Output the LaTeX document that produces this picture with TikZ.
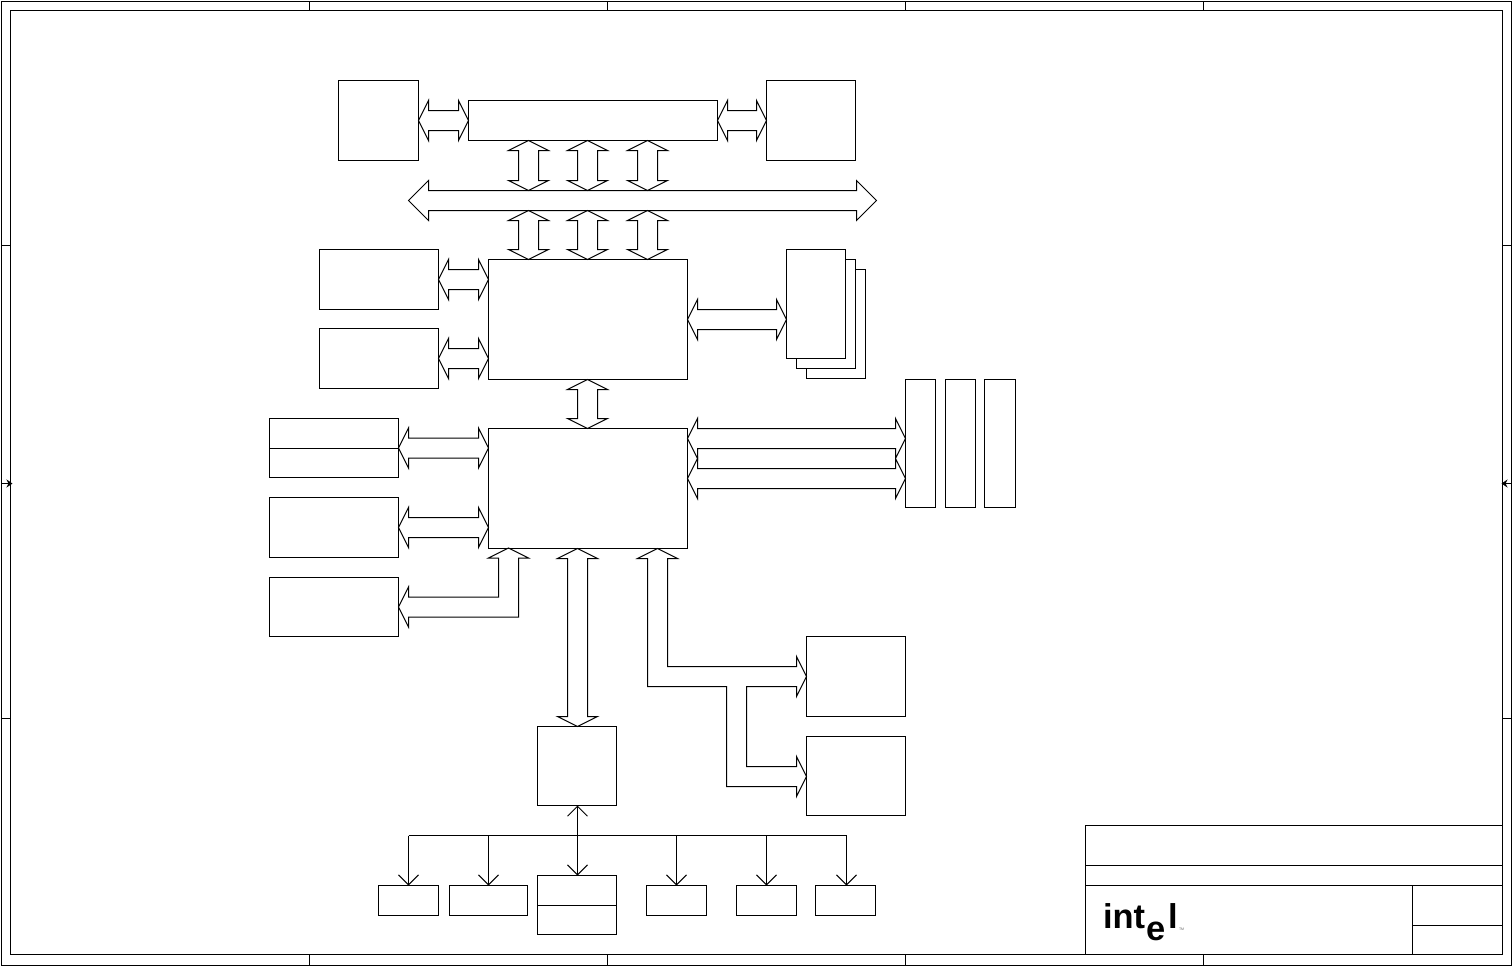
\documentclass[tikz,border=0pt]{standalone}
\usepackage{fontspec}
\setmainfont{Liberation Sans}
\usetikzlibrary{arrows.meta, calc}

\newcommand{\upx}{0.05cm}

% horizontal block arrow, left tip to right tip, y taken from the left tip
\newcommand{\hdbl}[3][10]{%
  \draw[busline] let \p1=(#2), \p2=(#3) in
    (\x1,\y1) -- ++(#1,-20) -- ++(0,10)
    -- (\x2-#1*\upx,\y1+10*\upx) -- ++(0,-10) -- (\x2,\y1) -- ++(-#1,20) -- ++(0,-10)
    -- (\x1+#1*\upx,\y1-10*\upx) -- ++(0,10) -- cycle;}
% vertical block arrow, top tip to bottom tip, x taken from the top tip
\newcommand{\vdbl}[2]{%
  \draw[busline] let \p1=(#1), \p2=(#2) in
    (\x1,\y1) -- ++(20,10) -- ++(-10,0)
    -- (\x1+10*\upx,\y2+10*\upx) -- ++(10,0) -- (\x1,\y2) -- ++(-20,-10) -- ++(10,0)
    -- (\x1-10*\upx,\y1-10*\upx) -- ++(-10,0) -- cycle;}

\begin{document}
\begin{tikzpicture}[
    x=\upx, y=-\upx,
    line width=\upx,
    % Node styles
    blk/.style 2 args={
        rectangle, draw=black, fill=white,
        minimum width=#1*\upx, minimum height=#2*\upx,
        inner sep=0pt, outer sep=0pt, anchor=north west
    },
    busline/.style={draw=black, line join=miter},
    lnk/.style={draw=black},
    barb/.style={-{Straight Barb[length=0.5cm, width=1cm, line width=\upx]}},
    barbs/.style={{Straight Barb[length=0.5cm, width=1cm, line width=\upx]}-{Straight Barb[length=0.5cm, width=1cm, line width=\upx]}},
    edgemark/.style={-{Stealth[length=0.3cm, width=0.4cm]}},
    logo/.style={font=\fontsize{49pt}{49pt}\selectfont\bfseries, inner sep=0pt, anchor=base west},
    logotm/.style={font=\fontsize{5pt}{5pt}\selectfont, inner sep=0pt, anchor=base west, text=black!60},
]
\useasboundingbox (-0.5,-0.5) rectangle (1511.5,965.5);

%% ---- SHEET FRAME ----
\node[blk={1510}{964}] (sheet) at (1,1) {};
\node[blk={1492}{944}] (inner) at (10,10) {};
\draw[lnk] (309,1) -- (309,10) (607,1) -- (607,10) (905,1) -- (905,10) (1203,1) -- (1203,10);
\draw[lnk] (309,954) -- (309,965) (607,954) -- (607,965) (905,954) -- (905,965) (1203,954) -- (1203,965);
\draw[lnk] (1,245) -- (10,245) (1,718) -- (10,718) (1502,245) -- (1511,245) (1502,718) -- (1511,718);
\draw[edgemark] (1,483) -- (12,483);
\draw[edgemark] (1511,483) -- (1501,483);

%% ---- TOP ROW ----
\node[blk={80}{80}]  (cpul)  at (338,80)  {};
\node[blk={249}{40}] (fsb)   at (468,100) {};
\node[blk={89}{80}]  (cpur)  at (766,80)  {};
\hdbl{cpul.east}{fsb.west}
\hdbl{fsb.east}{cpur.west}

%% ---- SYSTEM BUS ----
\coordinate (busl) at (408,200);
\coordinate (busr) at (876,200);
\coordinate (bust) at (642,190);
\coordinate (busb) at (642,210);
\hdbl[20]{busl}{busr}

\coordinate (tap1) at (528,0);
\coordinate (tap2) at (587,0);
\coordinate (tap3) at (647,0);

%% ---- MEMORY HUB ----
\node[blk={199}{120}] (mch)   at (488,259) {};
\node[blk={119}{60}]  (gfx)   at (319,249) {};
\node[blk={119}{60}]  (hub)   at (319,328) {};
\node[blk={59}{109}]  (dimm3) at (806,269) {};
\node[blk={59}{109}]  (dimm2) at (796,259) {};
\node[blk={59}{109}]  (dimm1) at (786,249) {};

\vdbl{tap1 |- fsb.south}{tap1 |- bust}
\vdbl{tap2 |- fsb.south}{tap2 |- bust}
\vdbl{tap3 |- fsb.south}{tap3 |- bust}
\vdbl{tap1 |- busb}{tap1 |- mch.north}
\vdbl{tap2 |- busb}{tap2 |- mch.north}
\vdbl{tap3 |- busb}{tap3 |- mch.north}
\hdbl{gfx.east}{mch.west}
\hdbl{hub.east}{mch.west}
\hdbl{mch.east}{dimm1.west}

%% ---- I/O HUB ----
\node[blk={199}{120}] (ich)   at (488,428) {};
\node[blk={129}{59}]  (ide)   at (269,418) {};
\node[blk={129}{60}]  (usb)   at (269,497) {};
\node[blk={129}{59}]  (lan)   at (269,577) {};
\node[blk={30}{128}]  (slot1) at (905,379) {};
\node[blk={30}{128}]  (slot2) at (945,379) {};
\node[blk={31}{128}]  (slot3) at (984,379) {};
\draw[lnk] (ide.west) -- (ide.east);

\coordinate (pcia) at (687,438);
\coordinate (pcib) at (687,478);
\vdbl{tap2 |- mch.south}{tap2 |- ich.north}
\hdbl{ide.east}{ich.west}
\hdbl{usb.east}{ich.west}
\hdbl{pcia}{slot1.west}
\hdbl{pcib}{slot1.west}

% I/O hub -> lan box
\draw[busline] (lan.east) -- ++(10,-20) -- ++(0,10) -- ++(90,0) -- ++(0,-39) -- ++(-10,0)
    -- ++(20,-10) -- ++(20,10) -- ++(-10,0) -- ++(0,59) -- ++(-110,0) -- ++(0,10) -- cycle;

%% ---- LOWER RIGHT ----
\node[blk={99}{80}]  (fwh)  at (806,636) {};
\node[blk={99}{79}]  (sio)  at (806,736) {};

% I/O hub -> fwh and sio
\coordinate (lpc) at (657,548);
\draw[busline] (lpc) -- ++(20,10) -- ++(-10,0) -- ++(0,108) -- ++(129,0) -- ++(0,-10)
    -- ++(10,20) -- ++(-10,20) -- ++(0,-10) -- ++(-50,0) -- ++(0,80) -- ++(50,0) -- ++(0,-10)
    -- ++(10,20) -- ++(-10,20) -- ++(0,-10) -- ++(-70,0) -- ++(0,-100) -- ++(-79,0)
    -- ++(0,-128) -- ++(-10,0) -- cycle;

%% ---- LOWER CENTRE ----
\node[blk={79}{79}] (ctrl)  at (537,726) {};
\node[blk={60}{30}] (dev1)  at (378,885) {};
\node[blk={78}{30}] (dev2)  at (449,885) {};
\node[blk={79}{59}] (dev3)  at (537,875) {};
\node[blk={60}{30}] (dev4)  at (646,885) {};
\node[blk={60}{30}] (dev5)  at (736,885) {};
\node[blk={60}{30}] (dev6)  at (815,885) {};
\draw[lnk] (dev3.west) -- (dev3.east);

\coordinate (tee) at (577,835);
\coordinate (pt1) at (408,835);
\coordinate (pt2) at (488,835);
\coordinate (pt4) at (676,835);
\coordinate (pt5) at (766,835);
\coordinate (pt6) at (846,835);

\coordinate (ctop) at (577,548);
\vdbl{ctop}{tee |- ctrl.north}

\draw[barbs] (tee |- ctrl.south) -- (tee |- dev3.north);
\draw[lnk] (pt1) -- (pt6);
\draw[barb] (pt1) -- (pt1 |- dev1.north);
\draw[barb] (pt2) -- (pt2 |- dev2.north);
\draw[barb] (pt4) -- (pt4 |- dev4.north);
\draw[barb] (pt5) -- (pt5 |- dev5.north);
\draw[barb] (pt6) -- (pt6 |- dev6.north);

%% ---- TITLE BLOCK ----
\node[blk={417}{129}] (title) at (1085,825) {};
\draw[lnk] (1085,865) -- (1502,865) (1085,885) -- (1502,885);
\draw[lnk] (1412,885) -- (1412,954) (1412,925) -- (1502,925);

\node[logo]   (logoint) at (1102,928) {int};
\node[logo]   (logoe)   at (1145,940) {e};
\node[logo]   (logol)   at (1167,928) {l};
\node[logotm] (logomark) at (1178,930) {TM};

\end{tikzpicture}
\end{document}
